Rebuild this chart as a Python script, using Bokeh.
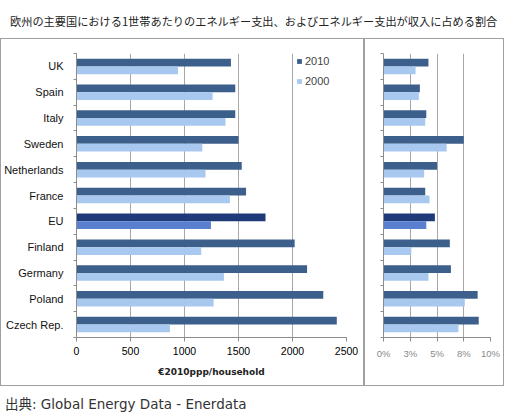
from bokeh.plotting import figure
from bokeh.models import ColumnDataSource, FixedTicker, Range1d, Div, Legend, LegendItem
from bokeh.layouts import column, row
from bokeh.embed import file_html
from bokeh.resources import INLINE

title_text = "欧州の主要国における1世帯あたりのエネルギー支出、およびエネルギー支出が収入に占める割合"
source_text = "出典: Global Energy Data - Enerdata"

countries = ["UK", "Spain", "Italy", "Sweden", "Netherlands", "France", "EU",
             "Finland", "Germany", "Poland", "Czech Rep."]
spend_2010 = [1430, 1470, 1470, 1500, 1530, 1570, 1750, 2020, 2135, 2285, 2410]
spend_2000 = [940, 1260, 1380, 1165, 1195, 1420, 1245, 1155, 1365, 1270, 865]
share_2010 = [4.2, 3.4, 4.0, 7.5, 5.0, 3.9, 4.8, 6.2, 6.3, 8.8, 8.9]
share_2000 = [3.0, 3.3, 3.9, 5.9, 3.8, 4.3, 4.0, 2.6, 4.2, 7.6, 7.0]
series = ["2010", "2000"]
spend_ticks = [0, 500, 1000, 1500, 2000, 2500]
share_ticks = [0, 2.5, 5, 7.5, 10]
share_tick_labels = ["0%", "3%", "5%", "8%", "10%"]

C10, C00 = "#3d5f8c", "#a9c8f0"
C10_EU, C00_EU = "#1e3a78", "#5b7fd0"
GRID = "#a8a8a8"
AXIS = "#8c8c8c"

n = len(countries)
ypos = [n - 1 - i for i in range(n)]
bounds = [k - 0.5 for k in range(n + 1)]
off = 0.15

src = ColumnDataSource(dict(
    country=countries,
    y10=[y + off for y in ypos],
    y00=[y - off for y in ypos],
    s10=spend_2010, s00=spend_2000,
    p10=share_2010, p00=share_2000,
    c10=[C10_EU if c == "EU" else C10 for c in countries],
    c00=[C00_EU if c == "EU" else C00 for c in countries],
))


def base(xr, fw, left, right):
    p = figure(frame_width=fw, frame_height=282, x_range=xr,
               y_range=Range1d(-0.5, n - 0.5),
               output_backend="svg", toolbar_location=None,
               min_border_left=left, min_border_right=right,
               min_border_top=14, min_border_bottom=50)
    p.outline_line_color = None
    p.ygrid.visible = False
    p.xgrid.grid_line_color = GRID
    p.xaxis.axis_line_color = AXIS
    p.xaxis.major_tick_line_color = AXIS
    p.xaxis.major_tick_in = 0
    p.xaxis.major_tick_out = 4
    p.xaxis.minor_tick_line_color = None
    p.yaxis.ticker = FixedTicker(ticks=ypos, minor_ticks=bounds)
    p.yaxis.axis_line_color = AXIS
    p.yaxis.major_tick_in = 0
    p.yaxis.major_tick_out = 0
    p.yaxis.minor_tick_in = 0
    p.yaxis.minor_tick_out = 3
    p.yaxis.minor_tick_line_color = AXIS
    p.styles = {"border": "1px solid #a0a0a0", "box-sizing": "border-box"}
    return p


# Left panel: spending per household
p1 = base(Range1d(0, 2500), 268, 69, 19)
r10 = p1.hbar(y="y10", left=0, right="s10", height=0.3, fill_color="c10",
              line_color=None, source=src)
r00 = p1.hbar(y="y00", left=0, right="s00", height=0.3, fill_color="c00",
              line_color=None, source=src)
p1.xaxis.ticker = FixedTicker(ticks=spend_ticks)
p1.xaxis.major_label_text_font = "Liberation Sans"
p1.xaxis.major_label_text_font_size = "10.5px"
p1.xaxis.major_label_text_color = "#000000"
p1.xaxis.major_label_standoff = 5
p1.xaxis.axis_label = "€2010ppp/household"
p1.xaxis.axis_label_text_font = "DejaVu Sans"
p1.xaxis.axis_label_text_font_style = "bold"
p1.xaxis.axis_label_text_font_size = "9px"
p1.xaxis.axis_label_text_color = "#222222"
p1.xaxis.axis_label_standoff = 9
p1.yaxis.major_label_overrides = {y: c for y, c in zip(ypos, countries)}
p1.yaxis.major_label_text_font = "Liberation Sans"
p1.yaxis.major_label_text_font_size = "11px"
p1.yaxis.major_label_text_color = "#111111"
p1.yaxis.major_label_standoff = 10

legend = Legend(items=[LegendItem(label=series[0], renderers=[r10]),
                       LegendItem(label=series[1], renderers=[r00])],
                location=(220, 249), orientation="vertical",
                padding=0, margin=0, spacing=6,
                glyph_width=6, glyph_height=6, label_height=14,
                label_standoff=3,
                label_text_font="Liberation Sans", label_text_font_size="11px",
                border_line_color=None, background_fill_alpha=0)
p1.add_layout(legend, "center")

# Right panel: share of income
p2 = base(Range1d(0, 10), 105, 18, 15)
p2.hbar(y="y10", left=0, right="p10", height=0.3, fill_color="c10",
        line_color=None, source=src)
p2.hbar(y="y00", left=0, right="p00", height=0.3, fill_color="c00",
        line_color=None, source=src)
p2.xaxis.ticker = FixedTicker(ticks=share_ticks)
p2.xaxis.major_label_overrides = {t: l for t, l in zip(share_ticks, share_tick_labels)}
p2.xaxis.major_label_text_font = "Liberation Sans"
p2.xaxis.major_label_text_font_size = "9.5px"
p2.xaxis.major_label_text_color = "#8a8a8a"
p2.xaxis.major_label_standoff = 6
p2.yaxis.major_label_overrides = {y: "" for y in ypos}

title = Div(text=('<div style="margin-top:8px; padding-left:5px; white-space:nowrap; '
                  'font-family:\'Noto Sans CJK JP\'; font-size:11.2px; color:#222222;">'
                  + title_text + '</div>'),
            width=494, height=28)
foot = Div(text=source_text, width=494, height=28,
           styles={"font-family": "DejaVu Sans, Noto Sans CJK JP", "font-size": "13.5px",
                   "color": "#333333", "padding-top": "4px", "white-space": "nowrap"})

layout = column(title, row(p1, p2, spacing=0), foot, spacing=0)

open("out.html", "w").write(file_html(layout, INLINE))
